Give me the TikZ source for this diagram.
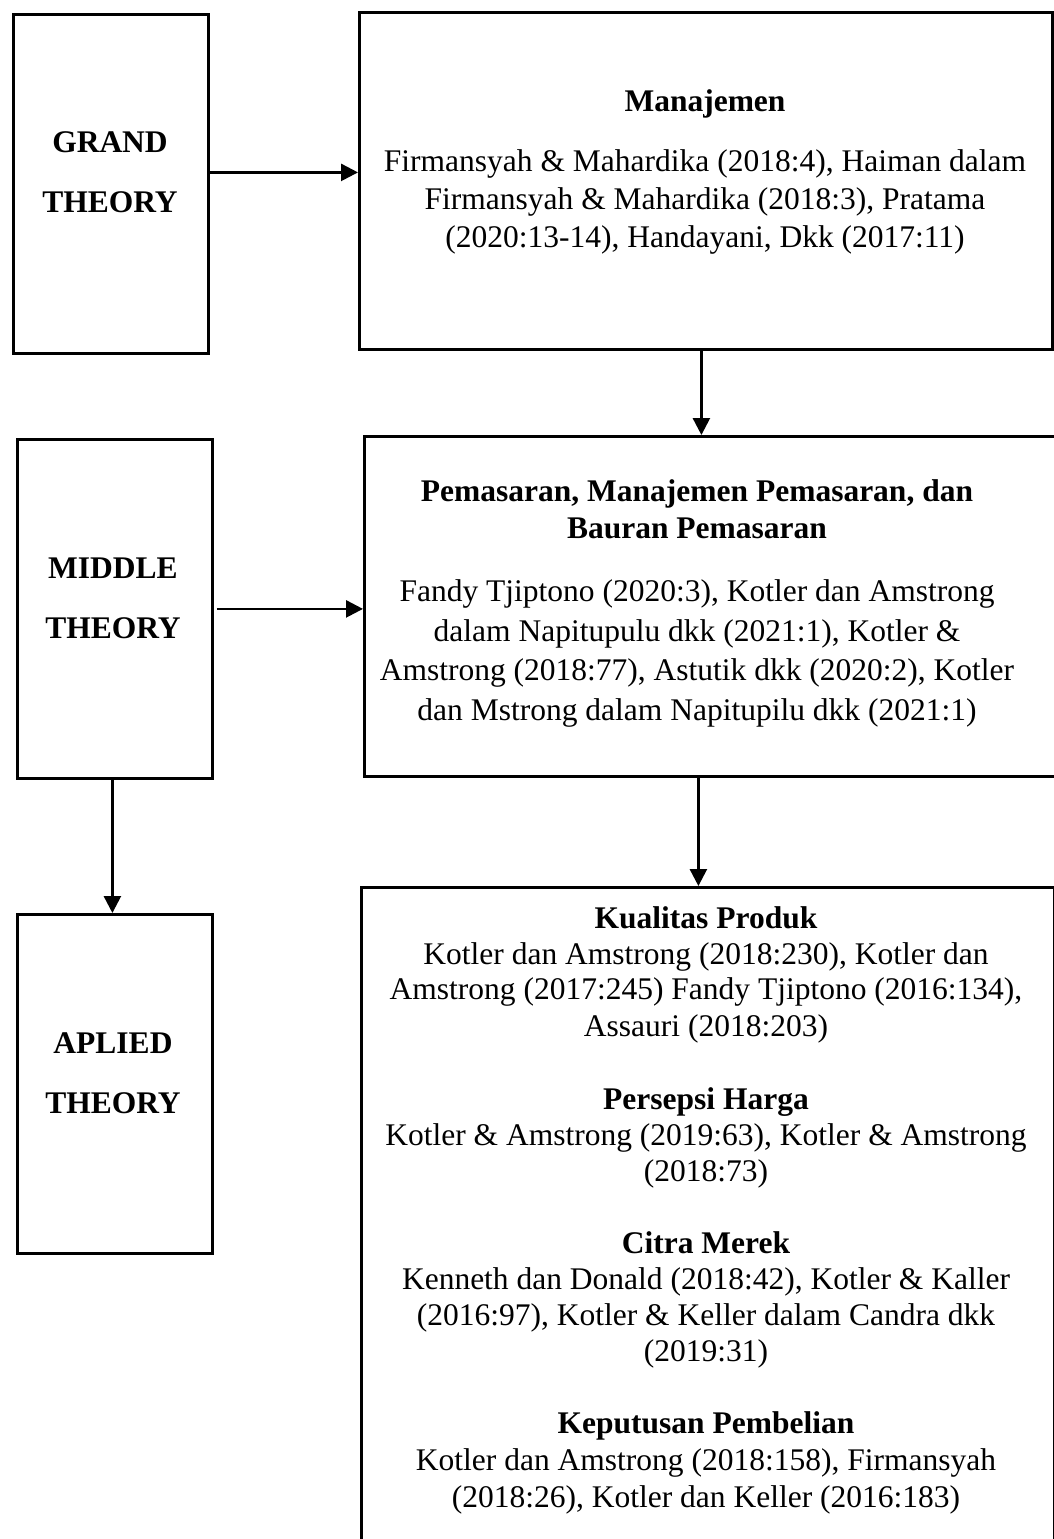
\documentclass[tikz,border=0pt]{standalone}
\usepackage{fontspec}
\setmainfont{Liberation Serif}
\usetikzlibrary{arrows.meta}
\tikzset{
  box/.style={draw=black, line width=2.8pt, inner sep=0pt, anchor=north west},
  arr/.style={line width=2.6pt, -{Triangle[length=17pt,width=17pt]}},
  txt/.style={inner sep=0pt, anchor=base, font=\fontsize{31.5}{38}\selectfont},
  btxt/.style={txt, font=\fontsize{31.5}{38}\selectfont\bfseries},
}
\begin{document}
\begin{tikzpicture}[x=1pt,y=-1pt]
\useasboundingbox (0,0) rectangle (1053,1539);
% boxes
\node[box, minimum width=195pt, minimum height=339pt] (grand) at (12,13) {};
\node[box, minimum width=693pt, minimum height=337pt] (manaj) at (358,11) {};
\node[box, minimum width=195pt, minimum height=339pt] (middle) at (16,438) {};
\node[box, minimum width=700pt, minimum height=340pt] (pem) at (363,435) {};
\node[box, minimum width=195pt, minimum height=339pt] (aplied) at (16,913) {};
\node[box, minimum width=693pt, minimum height=670pt] (bottom) at (360,886) {};
% left texts
\node[btxt] (g1) at (110,152) {GRAND};
\node[btxt] (g2) at (110,212) {THEORY};
\node[btxt] (m1) at (113,578) {MIDDLE};
\node[btxt] (m2) at (113,638) {THEORY};
\node[btxt] (a1) at (113,1053) {APLIED};
\node[btxt] (a2) at (113,1113) {THEORY};
% manajemen
\node[btxt] (t1) at (705,111) {Manajemen};
\node[txt] (t2) at (705,171) {Firmansyah \& Mahardika (2018:4), Haiman dalam};
\node[txt] (t3) at (705,209) {Firmansyah \& Mahardika (2018:3), Pratama};
\node[txt] (t4) at (705,247) {(2020:13-14), Handayani, Dkk (2017:11)};
% pemasaran
\node[btxt] (p1) at (697,501) {Pemasaran, Manajemen Pemasaran, dan};
\node[btxt] (p2) at (697,538) {Bauran Pemasaran};
\node[txt] (p3) at (697,601) {Fandy Tjiptono (2020:3), Kotler dan Amstrong};
\node[txt] (p4) at (697,641) {dalam Napitupulu dkk (2021:1), Kotler \&};
\node[txt] (p5) at (697,680) {Amstrong (2018:77), Astutik dkk (2020:2), Kotler};
\node[txt] (p6) at (697,720) {dan Mstrong dalam Napitupilu dkk (2021:1)};
% bottom box
\node[btxt] (k1) at (706,928) {Kualitas Produk};
\node[txt] (k2) at (706,964) {Kotler dan Amstrong (2018:230), Kotler dan};
\node[txt] (k3) at (706,999) {Amstrong (2017:245) Fandy Tjiptono (2016:134),};
\node[txt] (k4) at (706,1036) {Assauri (2018:203)};
\node[btxt] (h1) at (706,1109) {Persepsi Harga};
\node[txt] (h2) at (706,1145) {Kotler \& Amstrong (2019:63), Kotler \& Amstrong};
\node[txt] (h3) at (706,1181) {(2018:73)};
\node[btxt] (c1) at (706,1253) {Citra Merek};
\node[txt] (c2) at (706,1289) {Kenneth dan Donald (2018:42), Kotler \& Kaller};
\node[txt] (c3) at (706,1325) {(2016:97), Kotler \& Keller dalam Candra dkk};
\node[txt] (c4) at (706,1361) {(2019:31)};
\node[btxt] (e1) at (706,1433) {Keputusan Pembelian};
\node[txt] (e2) at (706,1470) {Kotler dan Amstrong (2018:158), Firmansyah};
\node[txt] (e3) at (706,1507) {(2018:26), Kotler dan Keller (2016:183)};
% connectors
\draw[arr] ([yshift=11.5pt]grand.east) -- ([yshift=11.5pt]grand.east -| manaj.west);
\draw[arr] ([xshift=-4.5pt]manaj.south) -- ([xshift=-4.5pt]manaj.south |- pem.north);
\draw[arr] ([xshift=3pt]middle.east) -- (middle.east -| pem.west);
\draw[arr] ([xshift=-2.5pt]middle.south) -- ([xshift=-2.5pt]middle.south |- aplied.north);
\draw[arr] ([xshift=-16pt]pem.south) -- ([xshift=-16pt]pem.south |- bottom.north);
\end{tikzpicture}
\end{document}
